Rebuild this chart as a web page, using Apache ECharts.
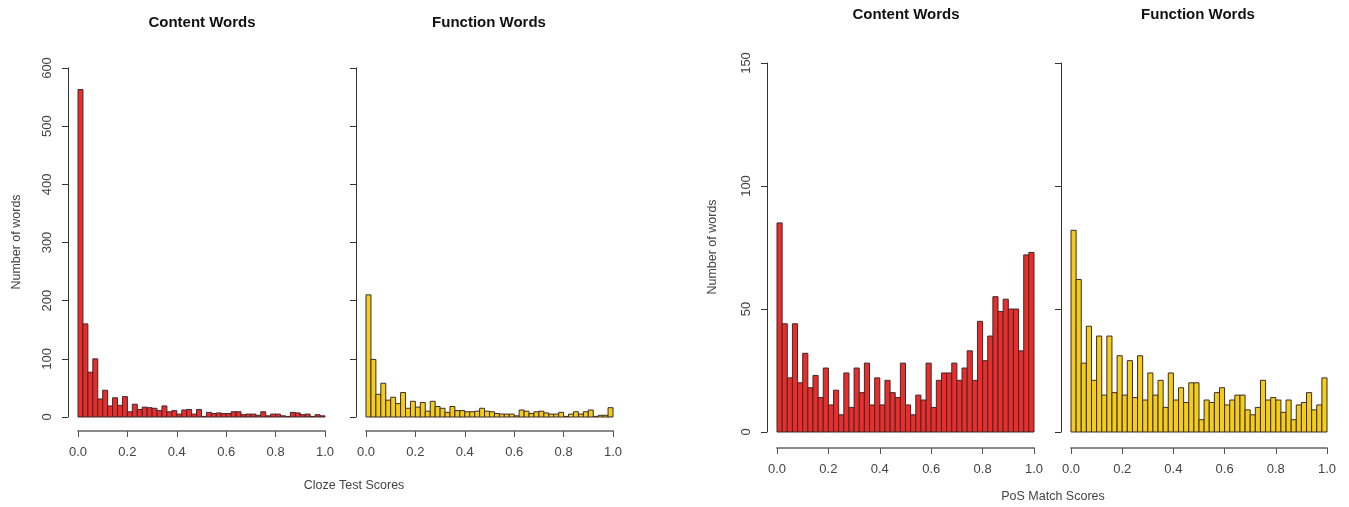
<!DOCTYPE html>
<html>
<head>
<meta charset="utf-8">
<script src="https://cdn.jsdelivr.net/npm/echarts@6/dist/echarts.min.js"></script>
<style>
html,body{margin:0;padding:0;background:#fff;}
#chart{width:1349px;height:507px;}
</style>
</head>
<body>
<div id="chart"></div>
<script>
// 50 bins of width 0.02 over [0, 1]
const binWidth = 0.02;

// Cloze test scores
const clozeContent = [563,160,77,100,31,46,19,33,20,35, 9,22,13,17,16,15,11,19,9,11,
                      5,12,13,5,13,1,8,6,7,6, 6,9,9,4,5,5,3,9,2,5, 5,2,1,8,7,4,5,1,4,2];
const clozeFunction = [210,99,39,58,29,34,23,42,15,27, 17,25,10,27,18,15,8,18,11,11,
                       9,9,10,15,10,9,6,5,5,5, 2,12,10,6,9,10,7,5,5,8, 1,5,9,5,9,12,1,3,3,16];

// PoS match scores
const posContent = [85,44,22,44,20,32,18,23,14,26, 11,17,7,24,10,26,16,28,11,22,
                    11,21,16,14,28,11,7,15,13,28, 10,21,24,24,28,21,26,33,21,45,
                    29,39,55,49,54,50,50,33,72,73];
const posFunction = [82,62,28,43,21,39,15,39,16,31, 15,29,14,31,13,24,15,21,10,24,
                     13,18,12,20,20,5,13,12,16,18, 11,13,15,15,9,7,10,21,13,14,
                     13,8,13,5,11,12,16,9,11,22];

const panelTitles = ['Content Words', 'Function Words', 'Content Words', 'Function Words'];
const xAxisTitles = ['Cloze Test Scores', 'PoS Match Scores'];
const yAxisTitle = 'Number of words';

const RED = '#EC2B2B';
const YELLOW = '#F3CD1A';
const EDGE = '#3b2b2b';

function toBins(counts){
    return counts.map((c, i) => [i * binWidth, (i + 1) * binWidth, c]);
}

function histSeries(idx, counts, color){
    return {
        type: 'custom',
        xAxisIndex: idx,
        yAxisIndex: idx,
        data: toBins(counts),
        renderItem: function(params, api){
            const p0 = api.coord([api.value(0), api.value(2)]);
            const p1 = api.coord([api.value(1), 0]);
            return {
                type: 'rect',
                shape: {x: p0[0], y: p0[1], width: p1[0] - p0[0], height: p1[1] - p0[1]},
                style: {fill: color, stroke: EDGE, lineWidth: 1}
            };
        },
        silent: true
    };
}

const panels = [
    {left: 78,   top: 68, width: 247, height: 349, max: 600, interval: 100, labels: true,  xOff: 14},
    {left: 366,  top: 68, width: 247, height: 349, max: 600, interval: 100, labels: false, xOff: 14},
    {left: 777,  top: 63, width: 257, height: 369, max: 150, interval: 50,  labels: true,  xOff: 16},
    {left: 1071, top: 63, width: 256, height: 369, max: 150, interval: 50,  labels: false, xOff: 16}
];

const font = '"Liberation Sans", Arial, sans-serif';

let option = {
    backgroundColor: '#fff',
    animation: false,
    grid: panels.map(p => ({left: p.left, top: p.top, width: p.width, height: p.height})),
    xAxis: panels.map((p, i) => ({
        type: 'value',
        gridIndex: i,
        min: 0,
        max: 1,
        interval: 0.2,
        position: 'bottom',
        offset: p.xOff,
        axisLine: {show: true, onZero: false, lineStyle: {color: '#8a8a8a', width: 2}},
        axisTick: {show: true, length: 6, lineStyle: {color: '#555'}},
        axisLabel: {
            color: '#444', fontSize: 13, fontFamily: font, margin: 15,
            formatter: v => v.toFixed(1)
        },
        splitLine: {show: false}
    })),
    yAxis: panels.map((p, i) => ({
        type: 'value',
        gridIndex: i,
        min: 0,
        max: p.max,
        interval: p.interval,
        position: 'left',
        offset: 10,
        axisLine: {show: true, onZero: false, lineStyle: {color: '#333', width: 1}},
        axisTick: {show: true, length: 6, lineStyle: {color: '#333'}},
        axisLabel: {show: p.labels, rotate: 90, color: '#444', fontSize: 13, fontFamily: font, margin: 14},
        splitLine: {show: false}
    })),
    series: [
        histSeries(0, clozeContent, RED),
        histSeries(1, clozeFunction, YELLOW),
        histSeries(2, posContent, RED),
        histSeries(3, posFunction, YELLOW)
    ],
    graphic: [
        {type: 'text', x: 202,  y: 23, style: {text: panelTitles[0], align: 'center', verticalAlign: 'middle', font: 'bold 15px ' + font, fill: '#111'}},
        {type: 'text', x: 489,  y: 23, style: {text: panelTitles[1], align: 'center', verticalAlign: 'middle', font: 'bold 15px ' + font, fill: '#111'}},
        {type: 'text', x: 906,  y: 15, style: {text: panelTitles[2], align: 'center', verticalAlign: 'middle', font: 'bold 15px ' + font, fill: '#111'}},
        {type: 'text', x: 1198, y: 15, style: {text: panelTitles[3], align: 'center', verticalAlign: 'middle', font: 'bold 15px ' + font, fill: '#111'}},
        {type: 'text', x: 354,  y: 486, style: {text: xAxisTitles[0], align: 'center', verticalAlign: 'middle', font: '12.5px ' + font, fill: '#444'}},
        {type: 'text', x: 1053, y: 497, style: {text: xAxisTitles[1], align: 'center', verticalAlign: 'middle', font: '12.5px ' + font, fill: '#444'}},
        {type: 'text', x: 17,  y: 242, rotation: Math.PI / 2, style: {text: yAxisTitle, align: 'center', verticalAlign: 'middle', font: '12.5px ' + font, fill: '#444'}},
        {type: 'text', x: 713, y: 247, rotation: Math.PI / 2, style: {text: yAxisTitle, align: 'center', verticalAlign: 'middle', font: '12.5px ' + font, fill: '#444'}}
    ]
};

let chart = echarts.init(document.getElementById('chart'));
chart.setOption(option);
</script>
</body>
</html>
